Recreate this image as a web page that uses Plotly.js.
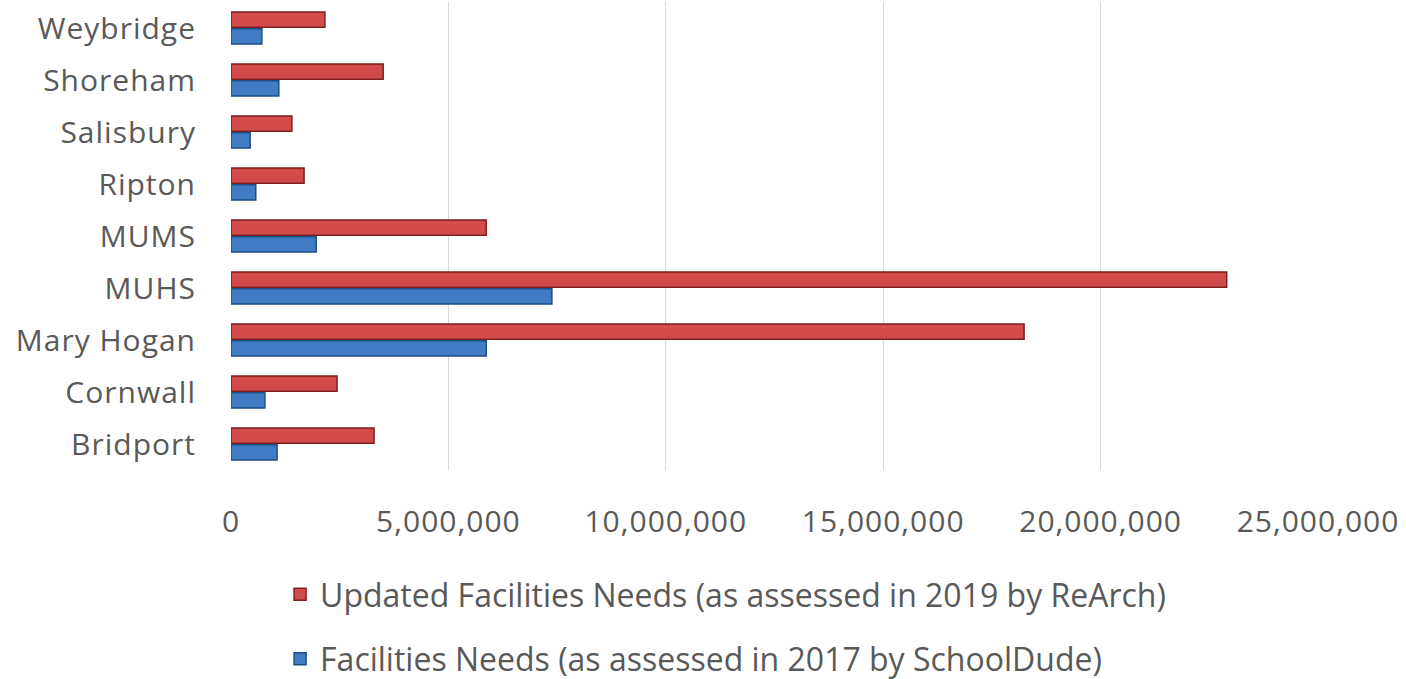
<!DOCTYPE html>
<html>
<head>
<meta charset="utf-8">
<script src="https://cdn.plot.ly/plotly-3.0.1.min.js"></script>
<style>
html,body{margin:0;padding:0;background:#fff;}
#chart{width:1406px;height:679px;}
#chart .xtick text, #chart .ytick text{letter-spacing:1px;}
</style>
</head>
<body>
<div id="chart"></div>
<script>
const schools = ["Bridport", "Cornwall", "Mary Hogan", "MUHS", "MUMS", "Ripton", "Salisbury", "Shoreham", "Weybridge"];
const needs2017 = [1060000, 780000, 5870000, 7380000, 1960000, 570000, 440000, 1100000, 710000];
const needs2019 = [3290000, 2440000, 18240000, 22900000, 5870000, 1680000, 1400000, 3500000, 2160000];
const name2017 = "Facilities Needs (as assessed in 2017 by SchoolDude)";
const name2019 = "Updated Facilities Needs (as assessed in 2019 by ReArch)";
const xTicks = [0, 5000000, 10000000, 15000000, 20000000, 25000000];
const xTickText = ["0", "5,000,000", "10,000,000", "15,000,000", "20,000,000", "25,000,000"];

const fontFam = "Open Sans, Lato, sans-serif";
const traces = [
  {type: "bar", orientation: "h", name: name2017, y: schools, x: needs2017, legendgroup: "a", legendrank: 2,
   marker: {color: "#3f7cc4", line: {color: "#1f4e85", width: 1.5}}},
  {type: "bar", orientation: "h", name: name2019, y: schools, x: needs2019, legendgroup: "b", legendrank: 1,
   marker: {color: "#d24b4b", line: {color: "#7e1f1f", width: 1.5}}}
];
const layout = {
  width: 1406, height: 679,
  margin: {l: 231, r: 88, t: 2, b: 209},
  paper_bgcolor: "#fff", plot_bgcolor: "#fff",
  barmode: "group", bargap: 0.35, bargroupgap: 0.1,
  font: {family: fontFam, size: 30, color: "#595959"},
  xaxis: {range: [0, 25000000], tickvals: xTicks, ticktext: xTickText,
          showgrid: true, gridcolor: "#d9d9d9", gridwidth: 1, zeroline: false,
          showline: false, ticks: "", ticklabelstandoff: 31,
          tickfont: {size: 30, color: "#595959"}},
  yaxis: {showgrid: false, zeroline: false, showline: false, ticks: "",
          ticklabelstandoff: 34, tickfont: {size: 30, color: "#595959"}},
  showlegend: true,
  legend: {orientation: "v", x: 0.455, xanchor: "center", yref: "container", y: 0.165, yanchor: "top",
           traceorder: "grouped", tracegroupgap: 20,
           font: {size: 32, color: "#595959"}, bgcolor: "rgba(0,0,0,0)"}
};
Plotly.newPlot("chart", traces, layout, {displayModeBar: false, staticPlot: true});
</script>
</body>
</html>
